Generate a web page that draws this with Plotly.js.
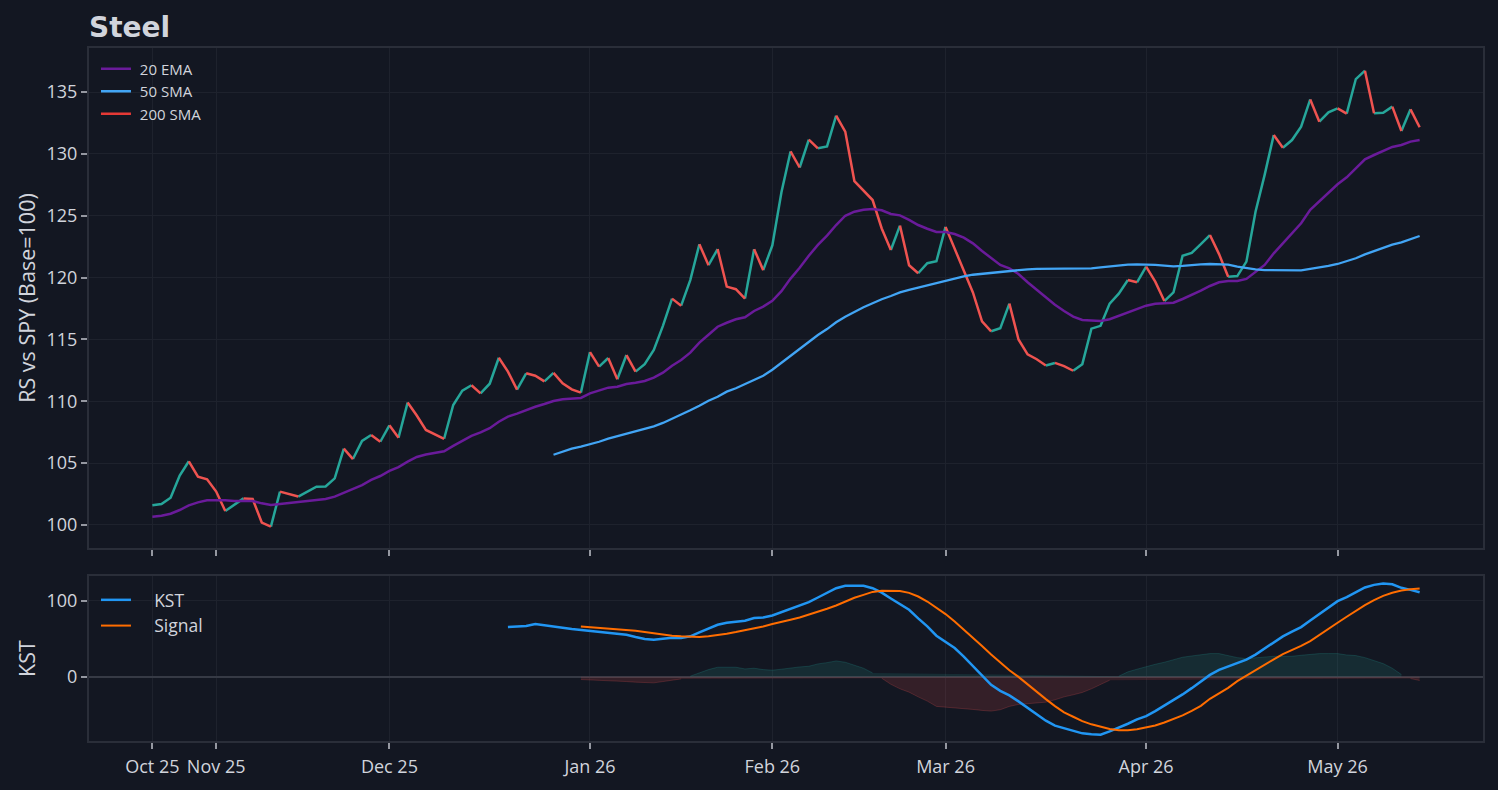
<!DOCTYPE html>
<html><head><meta charset="utf-8">
<script src="https://cdn.plot.ly/plotly-3.0.1.min.js"></script>
<style>html,body{margin:0;padding:0;background:#131722;}</style>
</head><body><div id="chart" style="width:1498px;height:790px;"></div>
<script>
// x positions are trading-day indices (weekends/holidays skipped)
const tickPositions = [0, 7, 26, 48, 68, 87, 109, 130];
const tickLabels = ["Oct 25", "Nov 25", "Dec 25", "Jan 26", "Feb 26", "Mar 26", "Apr 26", "May 26"];

const price = [
  101.6, 101.7, 102.2, 104.0, 105.15, 103.9, 103.7, 102.7, 101.13, 101.67,
  102.15, 102.1, 100.2, 99.87, 102.7, 102.53, 102.3, 102.73, 103.1, 103.12,
  103.77, 106.17, 105.33, 106.8, 107.27, 106.73, 108.06, 107.06, 109.9, 108.85,
  107.68, 107.35, 106.97, 109.7, 110.86, 111.3, 110.64, 111.42, 113.52, 112.4,
  110.94, 112.26, 112.07, 111.61, 112.3, 111.45, 110.96, 110.7, 113.98, 112.8,
  113.5, 111.78, 113.74, 112.4, 113.0, 114.15, 116.1, 118.3, 117.73, 119.8,
  122.7, 121.0, 122.3, 119.27, 119.06, 118.3, 122.3, 120.6, 122.6, 126.9,
  130.2, 128.9, 131.15, 130.45, 130.6, 133.1, 131.8, 127.8, 127.0, 126.27,
  123.97, 122.23, 124.2, 121.0, 120.35, 121.16, 121.32, 124.1, 122.3, 120.45,
  118.8, 116.46, 115.66, 115.9, 117.9, 115.0, 113.8, 113.4, 112.9, 113.1,
  112.85, 112.47, 113.0, 115.87, 116.1, 117.9, 118.7, 119.8, 119.62, 120.88,
  119.67, 118.1, 118.8, 121.77, 122.0, 122.7, 123.44, 121.9, 120.07, 120.12,
  121.29, 125.33, 128.3, 131.53, 130.5, 131.12, 132.2, 134.4, 132.6, 133.36,
  133.68, 133.25, 136.05, 136.73, 133.28, 133.33, 133.82, 131.85, 133.6, 132.15
];

const ema20 = [
  100.67, 100.75, 100.91, 101.21, 101.59, 101.83, 101.99, 102.02, 101.99, 101.94,
  101.91, 101.94, 101.75, 101.62, 101.70, 101.78, 101.83, 101.91, 102.02, 102.1,
  102.29, 102.61, 102.88, 103.23, 103.64, 103.96, 104.37, 104.68, 105.12, 105.5,
  105.7, 105.84, 105.96, 106.39, 106.82, 107.2, 107.49, 107.82, 108.35, 108.76,
  109.0, 109.3, 109.56, 109.78, 110.02, 110.16, 110.21, 110.27, 110.64, 110.86,
  111.1, 111.18, 111.4, 111.5, 111.64, 111.91, 112.31, 112.88, 113.34, 113.93,
  114.74, 115.38, 116.03, 116.35, 116.63, 116.79, 117.3, 117.65, 118.12, 118.9,
  119.92, 120.8, 121.77, 122.64, 123.39, 124.25, 125.0, 125.33, 125.49, 125.55,
  125.44, 125.14, 125.03, 124.66, 124.25, 123.95, 123.69, 123.69, 123.52, 123.23,
  122.77, 122.15, 121.56, 121.02, 120.75, 120.29, 119.62, 119.0, 118.38, 117.81,
  117.3, 116.84, 116.57, 116.52, 116.49, 116.63, 116.9, 117.2, 117.44, 117.73,
  117.89, 117.92, 117.97, 118.27, 118.59, 118.94, 119.32, 119.62, 119.73, 119.73,
  119.89, 120.43, 121.02, 121.96, 122.77, 123.58, 124.39, 125.47, 126.14, 126.86,
  127.54, 128.11, 128.84, 129.56, 129.91, 130.23, 130.56, 130.72, 130.99, 131.12
];

const sma50Start = 44;
const sma50 = [
  105.68, 105.93, 106.17, 106.33, 106.52, 106.73, 106.98, 107.17, 107.41, 107.6,
  107.76, 107.98, 108.25, 108.57, 108.89, 109.27, 109.64, 110.05, 110.37, 110.78,
  111.05, 111.37, 111.72, 112.07, 112.55, 113.1, 113.7, 114.25, 114.82, 115.36,
  115.84, 116.39, 116.84, 117.24, 117.6, 117.92, 118.25, 118.51, 118.81, 119.0,
  119.18, 119.35, 119.56, 119.75, 119.94, 120.1, 120.23, 120.31, 120.4, 120.45,
  120.53, 120.61, 120.67, 120.7, 120.7, 120.7, 120.7, 120.7, 120.7, 120.75,
  120.83, 120.91, 120.98, 121.05, 121.07, 121.07, 121.02, 120.96, 120.91, 120.94,
  121.02, 121.07, 121.1, 121.1, 121.05, 120.88, 120.75, 120.67, 120.61, 120.61,
  120.61, 120.59, 120.59, 120.7, 120.8, 120.94, 121.1, 121.32, 121.56, 121.88,
  122.15, 122.42, 122.66, 122.85, 123.1, 123.36
];

const kstStart = 39;
const kst = [
  65.5, 66.4, 66.9, 69.5, 68.2, 66.4, 64.7, 62.9, 61.6, 60.3,
  59.0, 58.6, 56.8, 55.5, 52.4, 49.8, 48.9, 49.8, 51.5, 51.1,
  53.3, 58.6, 63.8, 68.6, 71.3, 73.0, 73.9, 77.4, 78.3, 80.9,
  85.3, 90.1, 94.5, 98.4, 104.6, 110.3, 116.9, 120.0, 120.0, 120.0,
  116.9, 111.0, 103.3, 96.3, 88.4, 77.0, 66.4, 54.2, 46.3, 37.9,
  26.6, 13.8, 2.0, -10.8, -18.7, -24.7, -32.6, -41.4, -50.2, -58.1,
  -64.7, -68.2, -71.3, -74.8, -76.1, -76.5, -72.1, -67.3, -62.1, -56.4,
  -52.0, -45.5, -38.5, -31.5, -23.4, -15.1, -6.8, 2.4, 9.0, 13.8,
  18.2, 22.6, 29.2, 37.5, 45.4, 53.3, 59.5, 65.5, 74.3, 82.7,
  91.0, 99.8, 105.0, 111.2, 117.8, 121.3, 123.0, 122.1, 117.4, 114.7,
  111.6
];

const signalStart = 47;
const signal = [
  66.4, 65.5, 65.1, 64.3, 63.4, 62.1, 60.8, 59.0, 57.2, 55.5,
  54.2, 53.3, 52.4, 52.4, 53.3, 54.6, 56.8, 59.0, 61.2, 63.8,
  66.4, 69.5, 72.1, 75.2, 78.3, 81.8, 85.3, 89.7, 94.1, 99.3,
  104.2, 108.1, 112.0, 113.4, 113.8, 113.2, 110.7, 105.9, 99.3, 91.4,
  82.7, 73.0, 62.5, 51.5, 40.6, 29.2, 18.6, 8.6, -0.2, -10.3,
  -20.0, -29.6, -38.8, -47.1, -52.9, -58.6, -62.9, -66.4, -69.1, -70.8,
  -70.8, -69.5, -67.5, -64.5, -60.5, -56.0, -51.0, -45.0, -38.4, -29.2,
  -21.7, -14.7, -5.9, 1.6, 9.0, 16.1, 23.0, 29.8, 35.2, 40.8,
  47.1, 55.5, 63.4, 71.3, 79.2, 87.1, 94.5, 101.1, 106.8, 110.8,
  113.8, 115.5, 116.4
];

const histStart = 47;
const hist = [
  -3.7, -4.1, -4.6, -5.0, -5.5, -6.4, -7.2, -8.1, -8.1, -6.4,
  -4.2, -2.9, 0.7, 5.0, 9.4, 12.5, 12.9, 12.5, 10.3, 11.2,
  9.4, 8.6, 9.9, 11.6, 12.9, 13.8, 16.9, 18.6, 20.8, 19.1,
  15.1, 11.2, 5.0, -2.0, -10.0, -16.0, -20.4, -26.6, -32.2, -39.2,
  -40.1, -40.5, -41.4, -43.2, -44.5, -45.4, -43.6, -39.2, -36.6, -35.8,
  -34.9, -33.6, -30.5, -26.6, -23.9, -20.8, -16.0, -10.8, -4.6, 0.7,
  6.4, 9.9, 13.4, 16.4, 19.1, 22.3, 25.7, 27.4, 28.7, 30.5,
  30.5, 27.9, 25.2, 23.9, 25.2, 26.6, 27.0, 27.0, 27.0, 28.3,
  29.6, 30.5, 30.5, 30.5, 28.7, 27.9, 25.2, 21.7, 17.3, 11.2,
  2.9, -2.4, -5.0
];

const UP = '#26a69a', DOWN = '#ef5350';
const NB = '\u00a0';
const idx = (arr, start) => arr.map((_, i) => start + i);

// split the price line into rising / falling runs
function splitRuns(values) {
  const up = {x: [], y: []}, down = {x: [], y: []};
  let s = 1;
  while (s < values.length) {
    const d = values[s] > values[s - 1];
    let e = s;
    while (e + 1 < values.length && (values[e + 1] > values[e]) === d) e++;
    const t = d ? up : down;
    for (let j = s - 1; j <= e; j++) { t.x.push(j); t.y.push(values[j]); }
    t.x.push(null); t.y.push(null);
    s = e + 1;
  }
  return {up, down};
}
const runs = splitRuns(price);

const histX = idx(hist, histStart);
const histPos = hist.map(v => v >= 0 ? v : null);
const histNeg = hist.map(v => v < 0 ? v : null);

const traces = [
  {x: runs.up.x, y: runs.up.y, mode: 'lines', line: {color: UP, width: 2.5}, showlegend: false, hoverinfo: 'skip', xaxis: 'x', yaxis: 'y'},
  {x: runs.down.x, y: runs.down.y, mode: 'lines', line: {color: DOWN, width: 2.5}, showlegend: false, hoverinfo: 'skip', xaxis: 'x', yaxis: 'y'},
  {x: idx(ema20, 0), y: ema20, mode: 'lines', name: NB + '20 EMA', line: {color: '#6a1b9a', width: 2.5}, xaxis: 'x', yaxis: 'y', legend: 'legend'},
  {x: idx(sma50, sma50Start), y: sma50, mode: 'lines', name: NB + '50 SMA', line: {color: '#42a5f5', width: 2.3}, xaxis: 'x', yaxis: 'y', legend: 'legend'},
  {x: [0, 1], y: [null, null], mode: 'lines', name: NB + '200 SMA', line: {color: '#e53935', width: 2.5}, xaxis: 'x', yaxis: 'y', legend: 'legend'},
  {x: histX, y: histPos, mode: 'lines', fill: 'tozeroy', fillcolor: 'rgba(38,166,154,0.15)', line: {color: 'rgba(38,166,154,0.22)', width: 1}, showlegend: false, hoverinfo: 'skip', xaxis: 'x2', yaxis: 'y2'},
  {x: histX, y: histNeg, mode: 'lines', fill: 'tozeroy', fillcolor: 'rgba(239,83,80,0.15)', line: {color: 'rgba(239,83,80,0.22)', width: 1}, showlegend: false, hoverinfo: 'skip', xaxis: 'x2', yaxis: 'y2'},
  {x: idx(kst, kstStart), y: kst, mode: 'lines', name: NB + NB + NB + NB + 'KST', line: {color: '#2196f3', width: 2.5}, xaxis: 'x2', yaxis: 'y2', legend: 'legend2'},
  {x: idx(signal, signalStart), y: signal, mode: 'lines', name: NB + NB + NB + NB + 'Signal', line: {color: '#ff6d00', width: 2}, xaxis: 'x2', yaxis: 'y2', legend: 'legend2'}
];

const GRID = '#1e222d', FRAME = '#2a2e39', TXT = '#d1d4dc', TICK = '#9598a1';
const xCommon = {
  range: [-6.95, 145.95], tickvals: tickPositions, ticktext: tickLabels,
  ticks: 'outside', ticklen: 6, tickwidth: 2, tickcolor: TICK,
  showgrid: true, gridcolor: GRID, gridwidth: 1,
  showline: true, mirror: true, linecolor: FRAME, linewidth: 2, zeroline: false
};
const layout = {
  width: 1498, height: 790,
  paper_bgcolor: '#131722', plot_bgcolor: '#131722',
  margin: {l: 89, r: 15, t: 48, b: 49},
  font: {family: 'Open Sans, sans-serif', color: TXT, size: 18},
  title: {text: '<b>Steel</b>', font: {family: 'DejaVu Sans, sans-serif', size: 28, color: TXT}, xref: 'paper', x: 0, xanchor: 'left', yref: 'container', y: 0.966, yanchor: 'middle'},
  xaxis: Object.assign({}, xCommon, {domain: [0, 1], anchor: 'y', showticklabels: false}),
  xaxis2: Object.assign({}, xCommon, {domain: [0, 1], anchor: 'y2', matches: 'x', tickfont: {size: 18, color: TXT}, ticklabelstandoff: 2}),
  yaxis: {
    domain: [0.2785, 1], anchor: 'x', range: [98.14, 138.56], tick0: 100, dtick: 5,
    ticks: 'outside', ticklen: 6, tickwidth: 2, tickcolor: TICK, tickfont: {size: 18, color: TXT},
    showgrid: true, gridcolor: GRID, showline: true, mirror: true, linecolor: FRAME, linewidth: 2, zeroline: false,
    title: {text: 'RS vs SPY (Base=100)', font: {size: 21.5, color: TXT}}
  },
  yaxis2: {
    domain: [0, 0.2381], anchor: 'x2', range: [-84.9, 133], tickvals: [0, 100],
    ticks: 'outside', ticklen: 6, tickwidth: 2, tickcolor: TICK, tickfont: {size: 18, color: TXT},
    showgrid: true, gridcolor: GRID, showline: true, mirror: true, linecolor: FRAME, linewidth: 2,
    zeroline: true, zerolinecolor: '#363a45', zerolinewidth: 2,
    title: {text: 'KST', font: {size: 21.5, color: TXT}}
  },
  legend: {x: 0.005, y: 0.9935, xanchor: 'left', yanchor: 'top', bgcolor: 'rgba(0,0,0,0)', font: {size: 15, color: TXT}},
  legend2: {x: 0.005, y: 0.2295, xanchor: 'left', yanchor: 'top', bgcolor: 'rgba(0,0,0,0)', font: {size: 17.5, color: TXT}},
  showlegend: true
};

Plotly.newPlot('chart', traces, layout, {displayModeBar: false, staticPlot: true});
</script>
</body></html>
